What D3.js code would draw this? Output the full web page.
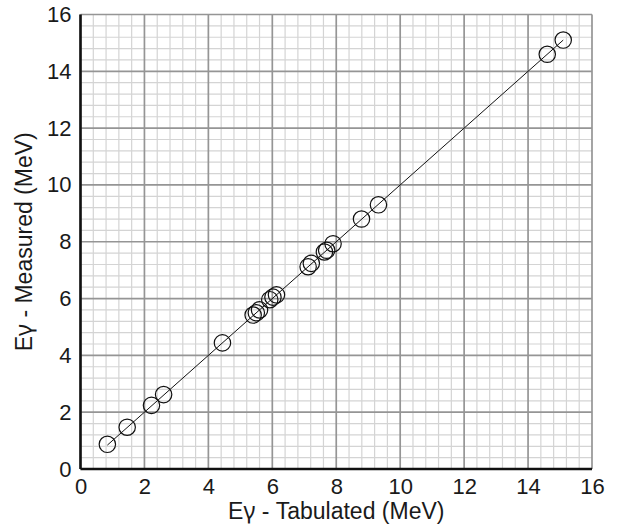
<!DOCTYPE html>
<html>
<head>
<meta charset="utf-8">
<script src="https://cdn.jsdelivr.net/npm/d3@7"></script>
<style>
  html, body { margin: 0; padding: 0; background: #fff; }
  svg { display: block; }
  text { font-family: "Liberation Sans", Arial, sans-serif; fill: #1a1a1a; }
</style>
</head>
<body>
<svg id="chart" width="619" height="530"></svg>
<script>
// Gamma-ray energies: tabulated vs measured (MeV)
const tabulated = [0.84, 1.46, 2.22, 2.60, 4.44, 5.40, 5.50, 5.60, 5.92, 6.02, 6.13,
                   7.12, 7.22, 7.63, 7.70, 7.90, 8.79, 9.32, 14.60, 15.10];
const measured  = [0.87, 1.47, 2.24, 2.62, 4.44, 5.42, 5.50, 5.60, 5.96, 6.05, 6.13,
                   7.12, 7.24, 7.64, 7.70, 7.93, 8.80, 9.30, 14.60, 15.10];
const tickValues = [0, 2, 4, 6, 8, 10, 12, 14, 16];
const xTitle = ["E", "γ", " - Tabulated (MeV)"];
const yTitle = ["E", "γ", " - Measured (MeV)"];

const svg = d3.select("#chart");
const margin = { left: 80.5, top: 14.5, right: 27, bottom: 61 };
const W = 619, H = 530;
const pw = W - margin.left - margin.right;
const ph = H - margin.top - margin.bottom;

const x = d3.scaleLinear().domain([0, 16]).range([0, pw]);
const y = d3.scaleLinear().domain([0, 16]).range([ph, 0]);

const g = svg.append("g").attr("transform", `translate(${margin.left},${margin.top})`);

// minor grid every 0.4, major every 2
const minor = d3.range(0, 16.001, 0.4).filter(v => Math.abs(v / 2 - Math.round(v / 2)) > 1e-6);
const major = tickValues;

g.append("g").selectAll("line").data(minor).join("line")
  .attr("x1", d => x(d)).attr("x2", d => x(d)).attr("y1", 0).attr("y2", ph)
  .attr("stroke", "#d4d4d4").attr("stroke-width", 1.2);
g.append("g").selectAll("line").data(minor).join("line")
  .attr("y1", d => y(d)).attr("y2", d => y(d)).attr("x1", 0).attr("x2", pw)
  .attr("stroke", "#d4d4d4").attr("stroke-width", 1.2);
g.append("g").selectAll("line").data(major).join("line")
  .attr("x1", d => x(d)).attr("x2", d => x(d)).attr("y1", 0).attr("y2", ph)
  .attr("stroke", "#959595").attr("stroke-width", 1.7);
g.append("g").selectAll("line").data(major).join("line")
  .attr("y1", d => y(d)).attr("y2", d => y(d)).attr("x1", 0).attr("x2", pw)
  .attr("stroke", "#959595").attr("stroke-width", 1.7);

// axes (labels only, no tick marks)
const xAxis = g.append("g").attr("transform", `translate(0,${ph})`)
  .call(d3.axisBottom(x).tickValues(tickValues).tickSize(0).tickPadding(9).tickFormat(d3.format("d")));
const yAxis = g.append("g")
  .call(d3.axisLeft(y).tickValues(tickValues).tickSize(0).tickPadding(9).tickFormat(d3.format("d")));
[xAxis, yAxis].forEach(a => {
  a.select(".domain").remove();
  a.selectAll("text").style("font-size", "22px").style("font-family", '"Liberation Sans", Arial, sans-serif').attr("fill", "#1a1a1a");
});

// solid black left and bottom axis lines
g.append("line").attr("x1", 0).attr("x2", 0).attr("y1", 0).attr("y2", ph)
  .attr("stroke", "#111").attr("stroke-width", 2.6);
g.append("line").attr("x1", 0).attr("x2", pw).attr("y1", ph).attr("y2", ph)
  .attr("stroke", "#111").attr("stroke-width", 2.6);

// fitted line y = x across data range
const x0 = d3.min(tabulated), x1 = d3.max(tabulated);
g.append("line")
  .attr("x1", x(x0)).attr("y1", y(x0)).attr("x2", x(x1)).attr("y2", y(x1))
  .attr("stroke", "#111").attr("stroke-width", 1);

// data points
const pts = tabulated.map((t, i) => ({ t, m: measured[i] }));
g.append("g").selectAll("circle").data(pts).join("circle")
  .attr("cx", d => x(d.t)).attr("cy", d => y(d.m)).attr("r", 8.2)
  .attr("fill", "none").attr("stroke", "#111").attr("stroke-width", 1.2);

// axis titles, with the Greek gamma set in a font that has a true gamma glyph
function title(sel, parts) {
  sel.selectAll("tspan").data(parts).join("tspan")
    .style("font-family", (d, i) => i === 1 ? '"Noto Sans", sans-serif' : null)
    .text(d => d);
}
svg.append("text")
  .attr("x", margin.left + pw / 2).attr("y", 519)
  .attr("text-anchor", "middle").style("font-size", "23px").call(title, xTitle);
svg.append("text")
  .attr("transform", `translate(32,${margin.top + ph / 2}) rotate(-90)`)
  .attr("text-anchor", "middle").style("font-size", "23px").call(title, yTitle);
</script>
</body>
</html>
